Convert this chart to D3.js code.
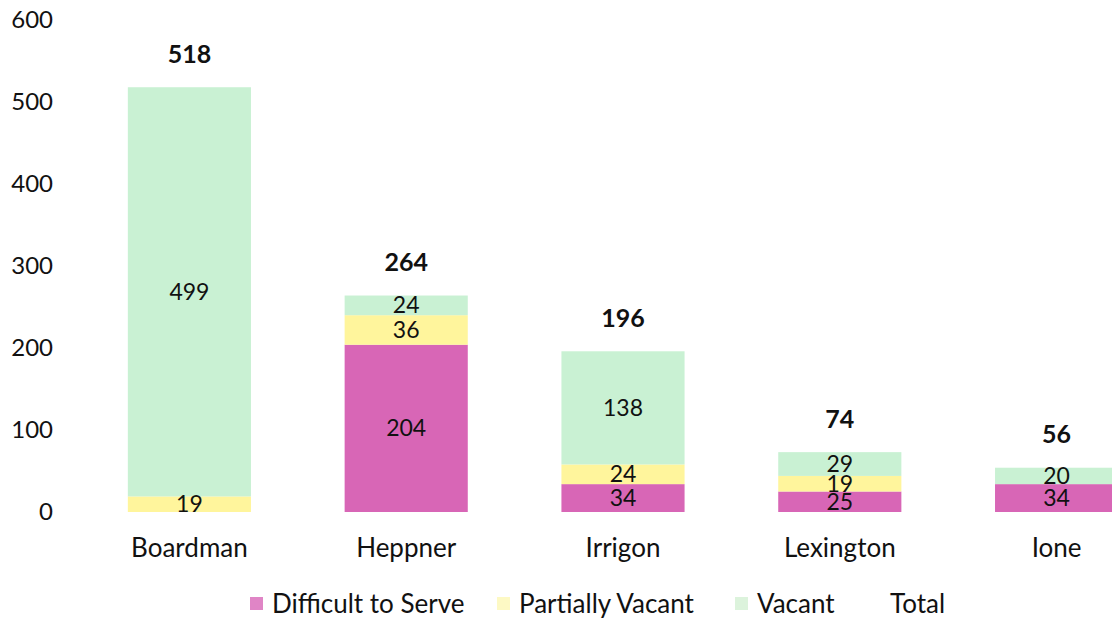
<!DOCTYPE html>
<html>
<head>
<meta charset="utf-8">
<script src="https://cdn.jsdelivr.net/npm/d3@7"></script>
<style>
  html, body { margin: 0; padding: 0; background: #fff; }
  svg { display: block; font-family: Lato, "Open Sans", sans-serif; }
</style>
</head>
<body>
<svg id="chart" width="1112" height="620"></svg>
<script>
// Land inventory by community (acres)
const categories = ["Boardman", "Heppner", "Irrigon", "Lexington", "Ione"];
const seriesNames = ["Difficult to Serve", "Partially Vacant", "Vacant"];
const difficultToServe = [0, 204, 34, 25, 34];
const partiallyVacant = [19, 36, 24, 19, 0];
const vacant = [499, 24, 138, 29, 20];
const totals = [518, 264, 196, 74, 56];
const yTicks = [0, 100, 200, 300, 400, 500, 600];

const colors = ["#d866b6", "#fff59c", "#c9f1d3"];
const legendColors = ["#e085c6", "#fdf9c4", "#dcf3dc"];

const svg = d3.select("#chart");

const x = d3.scaleBand()
  .domain(categories)
  .range([81, 1165])
  .paddingInner(0.432)
  .paddingOuter(0.216);

const y = d3.scaleLinear().domain([0, 600]).range([512, 20]);

const rows = categories.map((c, i) => ({
  category: c,
  "Difficult to Serve": difficultToServe[i],
  "Partially Vacant": partiallyVacant[i],
  "Vacant": vacant[i]
}));

const stacked = d3.stack().keys(seriesNames)(rows);

// Y axis labels only (no axis line, no gridlines)
const yAxis = d3.axisLeft(y).tickValues(yTicks).tickSize(0).tickPadding(0);
const yG = svg.append("g").attr("transform", "translate(53,0)").call(yAxis);
yG.select(".domain").remove();
yG.selectAll("text")
  .attr("font-family", "Lato, sans-serif")
  .attr("font-size", 24)
  .attr("fill", "#111");

// X axis category labels
const xAxis = d3.axisBottom(x).tickSize(0).tickPadding(0);
const xG = svg.append("g").attr("transform", "translate(0,539)").call(xAxis);
xG.select(".domain").remove();
xG.selectAll("text")
  .attr("font-family", "Lato, sans-serif")
  .attr("font-size", 26)
  .attr("fill", "#111");

// Stacked segments
const layers = svg.append("g").selectAll("g")
  .data(stacked)
  .join("g")
  .attr("fill", (d, i) => colors[i]);

layers.selectAll("rect")
  .data(d => d.map(v => ({ v, key: d.key })))
  .join("rect")
  .attr("x", d => x(d.v.data.category))
  .attr("width", x.bandwidth())
  .attr("y", d => y(d.v[1]))
  .attr("height", d => y(d.v[0]) - y(d.v[1]));

// Segment value labels
const labelG = svg.append("g");
stacked.forEach(layer => {
  layer.forEach(v => {
    const val = v[1] - v[0];
    if (val <= 0) return;
    labelG.append("text")
      .attr("x", x(v.data.category) + x.bandwidth() / 2)
      .attr("y", (y(v[0]) + y(v[1])) / 2)
      .attr("dy", "0.35em")
      .attr("text-anchor", "middle")
      .attr("font-size", 23)
      .attr("fill", "#111")
      .text(val);
  });
});

// Total labels above each stack
const tops = categories.map((c, i) => difficultToServe[i] + partiallyVacant[i] + vacant[i]);
svg.append("g").selectAll("text")
  .data(categories)
  .join("text")
  .attr("x", d => x(d) + x.bandwidth() / 2)
  .attr("y", (d, i) => y(tops[i]) - 33)
  .attr("dy", "0.35em")
  .attr("text-anchor", "middle")
  .attr("font-size", 25)
  .attr("font-weight", "bold")
  .attr("fill", "#111")
  .text((d, i) => totals[i]);

// Legend
const legendItems = [
  { name: "Difficult to Serve", color: legendColors[0], x: 250 },
  { name: "Partially Vacant", color: legendColors[1], x: 497 },
  { name: "Vacant", color: legendColors[2], x: 735 },
  { name: "Total", color: null, x: 868 }
];
const lg = svg.append("g");
legendItems.forEach(it => {
  if (it.color) {
    lg.append("rect")
      .attr("x", it.x).attr("y", 597)
      .attr("width", 13).attr("height", 13)
      .attr("fill", it.color);
  }
  lg.append("text")
    .attr("x", it.x + 22)
    .attr("y", 604)
    .attr("dy", "0.35em")
    .attr("font-size", 26)
    .attr("fill", "#111")
    .text(it.name);
});
</script>
</body>
</html>
